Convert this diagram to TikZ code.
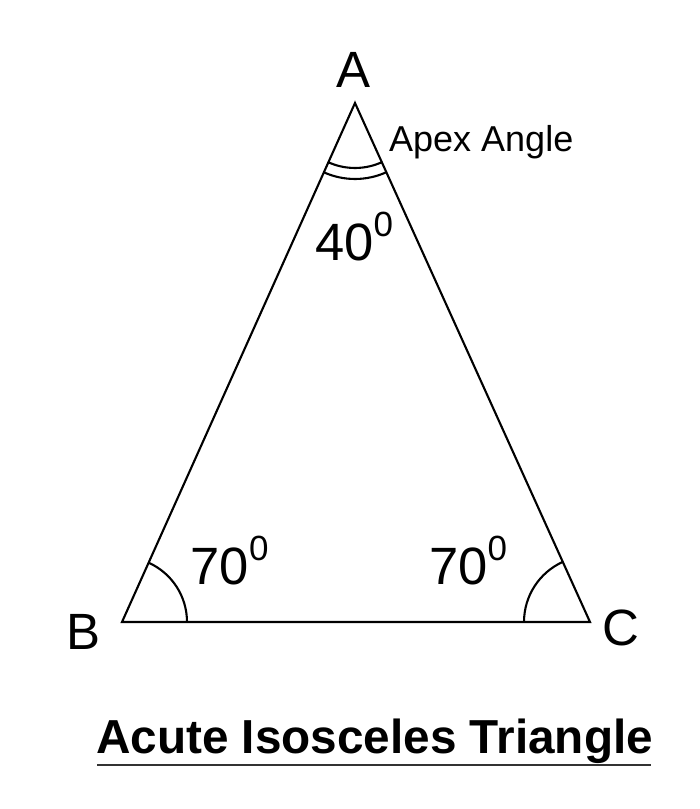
\documentclass[tikz,border=0pt]{standalone}
\usepackage{fontspec}
\setmainfont{Liberation Sans}
\usetikzlibrary{angles}
\begin{document}
\begin{tikzpicture}[x=1pt,y=1pt,
  side/.style={line width=2.1pt},
  anglemark/.style={draw,line width=2.1pt},
  vlabel/.style={inner sep=0pt,anchor=base,font=\fontsize{51}{51}\selectfont},
  deg/.style={inner sep=0pt,anchor=base west,font=\fontsize{52.5}{52.5}\selectfont},
  note/.style={inner sep=0pt,anchor=base west,font=\fontsize{36}{36}\selectfont}]
\useasboundingbox (0,0) rectangle (700,809);
\fill[white] (0,0) rectangle (700,809);
\coordinate (A) at (355,706);
\coordinate (B) at (122,187);
\coordinate (C) at (590,187);
\draw[side] (A) -- (B) -- (C) -- cycle;
\pic[anglemark,angle radius=65pt] {angle=C--B--A};
\pic[anglemark,angle radius=66pt] {angle=A--C--B};
\pic[anglemark,angle radius=65pt] {angle=B--A--C};
\pic[anglemark,angle radius=76pt] {angle=B--A--C};
\node[vlabel] (labA) at (354,721) {A};
\node[vlabel] (labB) at (84,159) {B};
\node[vlabel] (labC) at (621,163) {C};
\node[note] (apex) at (389,657) {Apex Angle};
\newcommand{\supzero}{\raisebox{24pt}{\fontsize{35}{35}\selectfont 0}}
\node[deg] (angA) at (315,548) {40\supzero};
\node[deg] (angB) at (190.5,224) {70\supzero};
\node[deg] (angC) at (429,224) {70\supzero};
\node[inner sep=0pt,anchor=base west,font=\fontsize{47.7}{47.7}\selectfont\bfseries] (title) at (96,55) {Acute Isosceles Triangle};
\coordinate (ul1) at (97,44);
\coordinate (ul2) at (651,44);
\draw[line width=1.6pt,black!80] (ul1) -- (ul2);
\end{tikzpicture}
\end{document}
